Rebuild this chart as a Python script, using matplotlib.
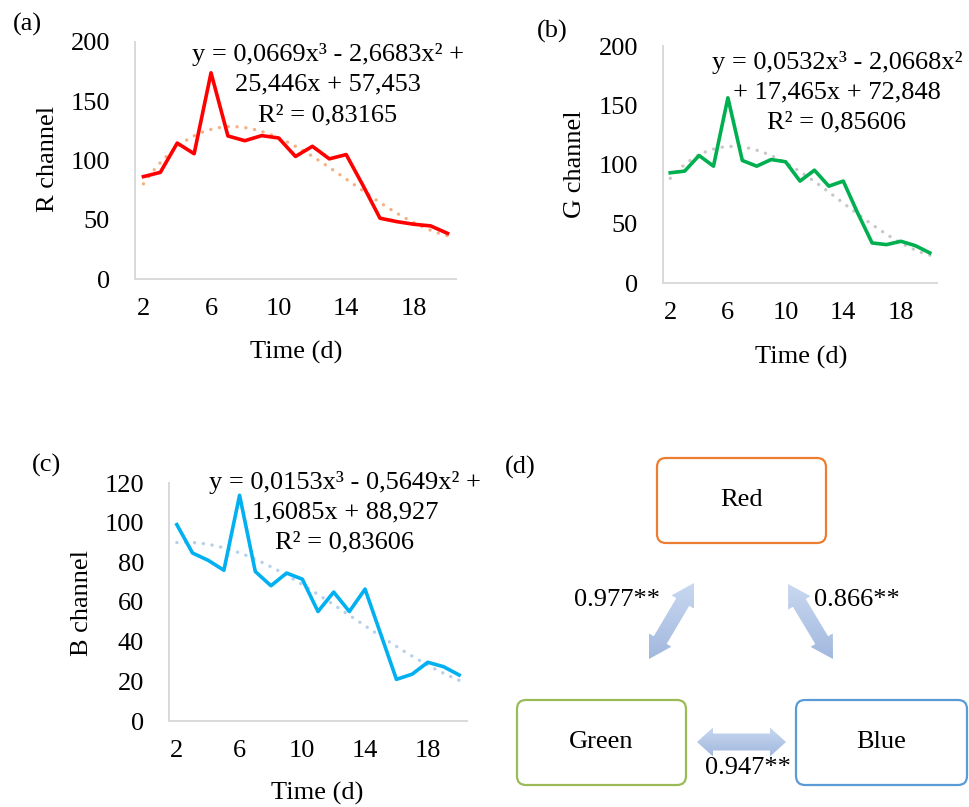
import numpy as np
import matplotlib.pyplot as plt
from matplotlib.patches import FancyBboxPatch, Polygon
from matplotlib.colors import LinearSegmentedColormap

plt.rcParams['font.family'] = ['Liberation Serif', 'DejaVu Serif']

W, H = 970, 807

# sampling days and mean channel values
days = np.arange(2, 21)
r_vals = [86.4, 90.0, 114.7, 105.7, 174.0, 120.7, 116.7, 121.0, 119.0, 103.4,
          112.0, 101.4, 105.0, 78.8, 51.3, 48.4, 46.2, 44.8, 38.5]
g_vals = [93.0, 94.4, 107.6, 98.6, 156.3, 103.4, 98.6, 104.2, 102.3, 86.0,
          95.2, 81.7, 86.0, 59.0, 33.8, 32.4, 35.2, 31.5, 25.4]
b_vals = [99.0, 84.7, 81.0, 76.0, 113.8, 75.4, 68.2, 74.6, 71.5, 55.2,
          65.0, 55.2, 66.5, 43.8, 21.0, 23.6, 29.6, 27.4, 23.2]

# cubic trendlines (x = point index, starting at 1)
r_coef = [0.0669, -2.6683, 25.446, 57.453]
g_coef = [0.0532, -2.0668, 17.465, 72.848]
b_coef = [0.0153, -0.5649, 1.6085, 88.927]

r_eq = ['y = 0,0669x³ - 2,6683x² +', '25,446x + 57,453', 'R² = 0,83165']
g_eq = ['y = 0,0532x³ - 2,0668x²', '+ 17,465x + 72,848', 'R² = 0,85606']
b_eq = ['y = 0,0153x³ - 0,5649x² +', '1,6085x + 88,927', 'R² = 0,83606']

x_ticks = [2, 6, 10, 14, 18]

# correlation diagram
box_names = ['Red', 'Green', 'Blue']
box_colors = ['#ED7D31', '#9BBB59', '#5B9BD5']
corr_labels = ['0.977**', '0.866**', '0.947**']

FS = 19

fig = plt.figure(figsize=(W / 100, H / 100), dpi=100)


def px_rect(l, t, r, b):
    return [l / W, 1 - b / H, (r - l) / W, (b - t) / H]


def channel_panel(box, vals, coef, line_c, trend_c, ymax, ystep):
    ax = fig.add_axes(px_rect(*box))
    idx = np.linspace(1, len(vals), 300)
    ax.plot(idx + 1, np.polyval(coef, idx), color=trend_c, lw=2.4,
            linestyle=(0, (0.05, 2.6)), dash_capstyle='round')
    ax.plot(days, vals, color=line_c, lw=2.6)
    ax.set_xlim(1.5, 20.5)
    ax.set_ylim(0, ymax)
    ax.set_xticks(x_ticks)
    ax.set_yticks(np.arange(0, ymax + 1, ystep))
    ax.tick_params(length=0, labelsize=FS)
    ax.tick_params(axis='x', pad=14)
    ax.tick_params(axis='y', pad=18)
    for s in ['top', 'right']:
        ax.spines[s].set_visible(False)
    for s in ['left', 'bottom']:
        ax.spines[s].set_color('#D9D9D9')
        ax.spines[s].set_linewidth(1.4)
    return ax


channel_panel((135, 42, 456, 279), r_vals, r_coef, '#FF0000', '#F4B183', 200, 50)
channel_panel((663, 46, 937, 283), g_vals, g_coef, '#00B050', '#C8C8C8', 200, 50)
channel_panel((169, 483, 467, 721), b_vals, b_coef, '#00B0F0', '#B7CFEA', 120, 20)

# overlay in pixel coordinates for free text and the diagram
cv = fig.add_axes([0, 0, 1, 1])
cv.patch.set_visible(False)
cv.axis('off')


def put(x, y, s, **kw):
    kw.setdefault('fontsize', FS)
    cv.text(x, y, s, ha='center', va='center', **kw)


# panel letters
put(27, 24, '(a)', fontsize=19)
put(552, 31, '(b)', fontsize=19)
put(47, 465, '(c)', fontsize=19)
put(520, 467, '(d)', fontsize=19)

# axis titles
put(48, 159, 'R channel', rotation=90)
put(575, 164, 'G channel', rotation=90)
put(82, 603, 'B channel', rotation=90)
put(296, 352, 'Time (d)')
put(801, 357, 'Time (d)')
put(317, 793, 'Time (d)')

# trendline equations
for eq, cx, ys in [(r_eq, 328, (55, 84, 115)),
                   (g_eq, 837, (63, 92, 122)),
                   (b_eq, 345, (483, 512, 542))]:
    for line, y in zip(eq, ys):
        put(cx, y, line)

# boxes of the correlation diagram
box_geo = [(657, 458, 826, 543), (517, 700, 686, 785), (796, 700, 967, 785)]
for name, col, (x0, y0, x1, y1) in zip(box_names, box_colors, box_geo):
    cv.add_patch(FancyBboxPatch((x0, y0), x1 - x0, y1 - y0,
                                boxstyle='round,pad=0,rounding_size=9',
                                fc='white', ec=col, lw=1.6))
    put((x0 + x1) / 2, (y0 + y1) / 2, name)

arrow_cmap = LinearSegmentedColormap.from_list('arr', ['#C8D8F0', '#A2B8DE'])


def double_arrow(p0, p1, shaft_w, head_w, head_len):
    p0, p1 = np.array(p0, float), np.array(p1, float)
    d = p1 - p0
    u = d / np.hypot(*d)
    n = np.array([-u[1], u[0]])
    pts = [p0,
           p0 + u * head_len + n * head_w / 2,
           p0 + u * head_len + n * shaft_w / 2,
           p1 - u * head_len + n * shaft_w / 2,
           p1 - u * head_len + n * head_w / 2,
           p1,
           p1 - u * head_len - n * head_w / 2,
           p1 - u * head_len - n * shaft_w / 2,
           p0 + u * head_len - n * shaft_w / 2,
           p0 + u * head_len - n * head_w / 2]
    pts = np.array(pts)
    poly = Polygon(pts, closed=True, fc='none', ec='none')
    cv.add_patch(poly)
    grad = np.linspace(0, 1, 64)[:, None]
    im = cv.imshow(grad, cmap=arrow_cmap, aspect='auto',
                   extent=(pts[:, 0].min(), pts[:, 0].max(),
                           pts[:, 1].max(), pts[:, 1].min()))
    im.set_clip_path(poly)


double_arrow((649, 659), (694, 583), 15, 26, 22)
double_arrow((788, 584), (833, 659), 15, 26, 22)
double_arrow((697, 742), (786, 742), 17, 29, 16)

put(617, 600, corr_labels[0])
put(857, 600, corr_labels[1])
put(748, 768, corr_labels[2])

cv.set_xlim(0, W)
cv.set_ylim(H, 0)

fig.savefig('out.png', dpi=100)
